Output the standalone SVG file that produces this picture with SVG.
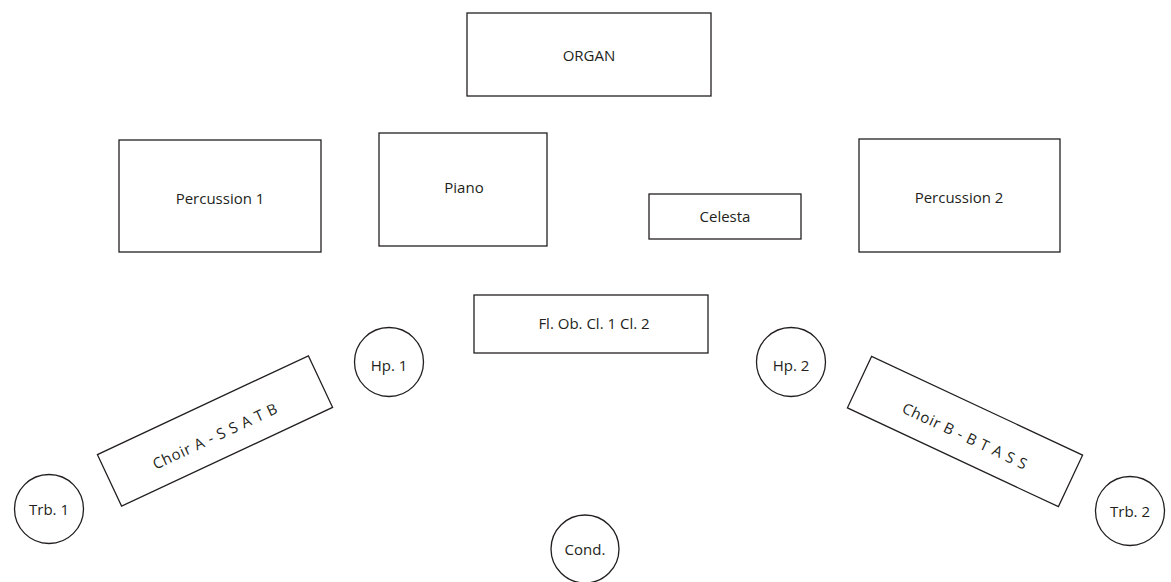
<svg xmlns="http://www.w3.org/2000/svg" width="1171" height="582" viewBox="0 0 1171 582">
<style>
.b{fill:#fff;stroke:#231f20;stroke-width:1.3}
.t{font-family:"Open Sans","Liberation Sans",sans-serif;font-size:15px;fill:#231f20;text-anchor:middle;dominant-baseline:central}
.c{letter-spacing:0.7px}
</style>
<rect width="1171" height="582" fill="#fff"/>
<g id="organ"><rect class="b" x="467" y="13" width="244" height="83"/><text class="t" x="589" y="55">ORGAN</text></g>
<g id="perc1"><rect class="b" x="119" y="140" width="202" height="112"/><text class="t" x="220" y="198">Percussion 1</text></g>
<g id="piano"><rect class="b" x="379" y="133" width="168" height="113"/><text class="t" x="464" y="187">Piano</text></g>
<g id="celesta"><rect class="b" x="649" y="194" width="152" height="45"/><text class="t" x="725" y="216">Celesta</text></g>
<g id="perc2"><rect class="b" x="859" y="139" width="201" height="113"/><text class="t" x="959" y="197">Percussion 2</text></g>
<g id="winds"><rect class="b" x="474" y="295" width="234" height="58"/><text class="t" x="594" y="323">Fl. Ob. Cl. 1 Cl. 2</text></g>
<g id="hp1"><circle class="b" cx="389" cy="362" r="34.5"/><text class="t" x="389" y="365">Hp. 1</text></g>
<g id="hp2"><circle class="b" cx="791" cy="362" r="34.5"/><text class="t" x="791" y="365">Hp. 2</text></g>
<g id="choirA" transform="rotate(-25.1 215 431)"><rect class="b" x="98.5" y="402.5" width="233" height="57"/><text class="t c" x="213" y="435">Choir A - S S A T B</text></g>
<g id="choirB" transform="rotate(25.1 965 431.5)"><rect class="b" x="848.5" y="403" width="233" height="57"/><text class="t c" x="967" y="435">Choir B - B T A S S</text></g>
<g id="trb1"><circle class="b" cx="49" cy="509" r="34.5"/><text class="t" x="49" y="509">Trb. 1</text></g>
<g id="trb2"><circle class="b" cx="1130" cy="511" r="34.5"/><text class="t" x="1130" y="511">Trb. 2</text></g>
<g id="cond"><circle class="b" cx="585" cy="549" r="34"/><text class="t" x="585" y="549">Cond.</text></g>
<g id="connectors"></g>
</svg>
